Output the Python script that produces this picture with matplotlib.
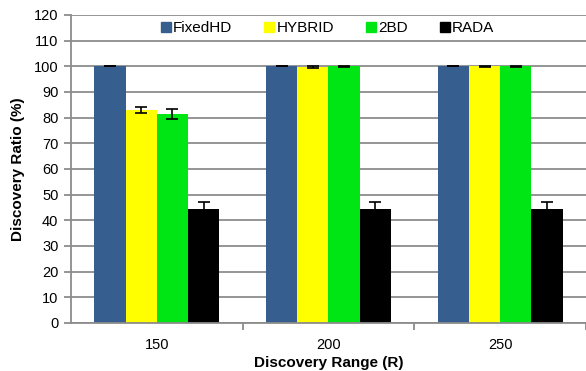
import numpy as np
import matplotlib
matplotlib.use("Agg")
import matplotlib.pyplot as plt
from matplotlib.lines import Line2D

plt.rcParams['font.family'] = ['Liberation Sans', 'DejaVu Sans']

ranges = ["150", "200", "250"]
schemes = ["FixedHD", "HYBRID", "2BD", "RADA"]
ratio = {
    "FixedHD": [100, 100, 100],
    "HYBRID": [83.0, 99.8, 100],
    "2BD": [81.3, 100, 100],
    "RADA": [44.3, 44.3, 44.3],
}
err = {
    "FixedHD": [0, 0, 0],
    "HYBRID": [1.3, 0.5, 0.2],
    "2BD": [2.0, 0.2, 0.2],
    "RADA": [3.0, 3.0, 3.0],
}
colors = ["#365e8f", "#ffff00", "#00e615", "#000000"]

fig = plt.figure(figsize=(5.86, 3.71), dpi=100)
ax = fig.add_axes([0.121, 0.1294, 0.879, 0.8302])

x = np.arange(len(ranges))
w = 0.182
for i, (name, c) in enumerate(zip(schemes, colors)):
    pos = x + (i - 1.5) * w
    ax.bar(pos, ratio[name], width=w, color=c, zorder=2)
    ax.errorbar(pos, ratio[name], yerr=err[name], fmt='none', ecolor='black',
                elinewidth=1.2, capsize=4, capthick=1.2, zorder=3)

ax.set_xlim(-0.5, 2.5)
ax.set_ylim(0, 120)
ax.set_yticks(np.arange(0, 121, 10))
ax.yaxis.grid(True, color='#8c8c8c', linewidth=1.3, zorder=0)
ax.set_axisbelow(True)

ax.set_xticks(x)
ax.set_xticklabels(ranges)
ax.tick_params(axis='x', length=0, pad=11, labelsize=10.5)
ax.set_xticks([0.5, 1.5, 2.5], minor=True)
ax.tick_params(axis='x', which='minor', length=5, color='#8c8c8c', width=1.3)
ax.tick_params(axis='y', length=5, color='#8c8c8c', width=1.3, labelsize=10.5, pad=4)

for s in ['top', 'right']:
    ax.spines[s].set_visible(False)
for s in ['left', 'bottom']:
    ax.spines[s].set_color('#8c8c8c')
    ax.spines[s].set_linewidth(1.3)

ax.set_ylabel("Discovery Ratio (%)", fontweight='bold', fontsize=11, labelpad=6)
ax.set_xlabel("Discovery Range (R)", fontweight='bold', fontsize=11, labelpad=3)

handles = [Line2D([], [], marker='s', linestyle='none', markersize=7,
                  markerfacecolor=c, markeredgecolor=c) for c in colors]
ax.legend(handles, schemes, ncol=4, loc='center', bbox_to_anchor=(0.498, 0.958),
          frameon=False, fontsize=11, handletextpad=0.1, columnspacing=2.1,
          borderpad=0.3, handlelength=0.7)

fig.savefig("out.png", dpi=100)
